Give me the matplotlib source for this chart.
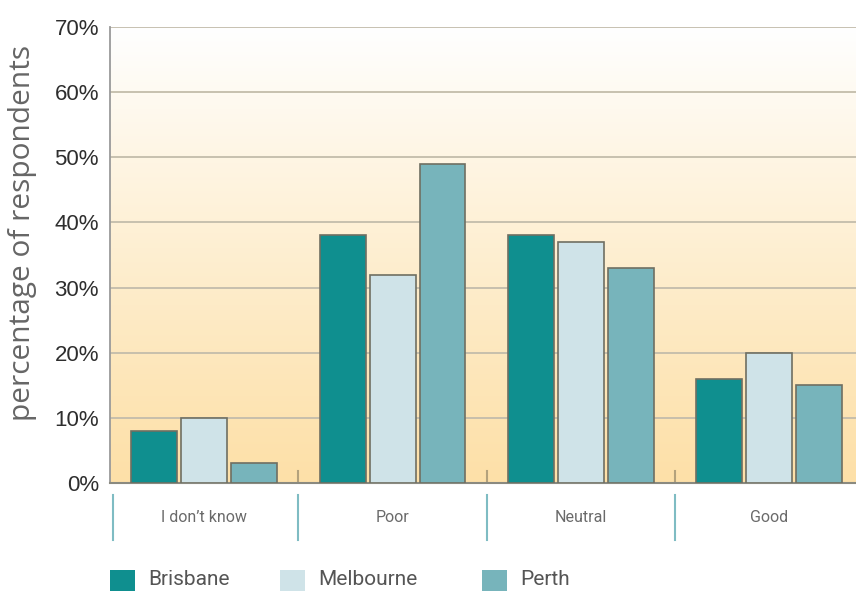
import numpy as np
import matplotlib
matplotlib.use("Agg")
import matplotlib.pyplot as plt
from matplotlib.patches import Rectangle
from matplotlib.lines import Line2D

categories = ["I don\u2019t know", "Poor", "Neutral", "Good"]
series_names = ["Brisbane", "Melbourne", "Perth"]
brisbane = [8, 38, 38, 16]
melbourne = [10, 32, 37, 20]
perth = [3, 49, 33, 15]
yticks = [0, 10, 20, 30, 40, 50, 60, 70]
ytick_labels = ["0%", "10%", "20%", "30%", "40%", "50%", "60%", "70%"]

series = [brisbane, melbourne, perth]
colors = ["#0f8f8f", "#cfe3e8", "#77b4bb"]

W, H = 856, 591
fig = plt.figure(figsize=(W / 100, H / 100), dpi=100)
left, right, top, bottom = 110, 856, 27, 483
ax = fig.add_axes([left / W, 1 - bottom / H, (right - left) / W, (bottom - top) / H])

ax.set_xlim(-0.5, 3.46)
ax.set_ylim(0, 70)

# gradient background
grad = np.linspace(0, 1, 256)[:, None]
c_top = np.array([1.0, 1.0, 1.0])
c_bot = np.array([253, 224, 168]) / 255.0
t = grad ** 1.1
img = (c_bot * (1 - t)[..., None] + c_top * t[..., None])
img = np.repeat(img, 2, axis=1)
ax.imshow(img, extent=[-0.5, 3.46, 0, 70], origin="lower", aspect="auto", zorder=0)

# gridlines
for yv in yticks[1:]:
    ax.axhline(yv, color="#c3bcab", lw=1.3, zorder=1)

x = np.arange(len(categories))
bw = 0.244
step = 0.265
for i, (vals, col) in enumerate(zip(series, colors)):
    ax.bar(x + (i - 1) * step, vals, width=bw, color=col, edgecolor="#6f6f62",
           linewidth=1.2, zorder=3)

# small tan ticks at group boundaries
for b in x[1:] - 0.5:
    ax.plot([b, b], [0, 1.8], color="#b4a27c", lw=1.5, zorder=2)

ax.set_yticks(yticks)
ax.set_yticklabels(ytick_labels, fontfamily="Liberation Sans", fontsize=16, color="#2e2e2e")
ax.tick_params(axis="y", length=0, pad=8)
ax.set_xticks([])
for s in ["top", "right"]:
    ax.spines[s].set_visible(False)
ax.spines["left"].set_color("#9a9a9a")
ax.spines["left"].set_linewidth(1.3)
ax.spines["bottom"].set_color("#8a8a80")
ax.spines["bottom"].set_linewidth(1.5)

fig.text(23 / W, 1 - 233 / H, "percentage of respondents", rotation=90,
         ha="center", va="center", fontfamily="Open Sans", fontsize=21.5, color="#666666")

# category labels and separators below axis
trans = ax.get_xaxis_transform()
span = bottom - top
for i, cat in enumerate(categories):
    ax.text(i, -(518 - bottom) / span, cat, transform=trans, ha="center", va="center",
            fontfamily=["Roboto", "DejaVu Sans"], fontsize=11.5, color="#6a6a6a")
for b in x - 0.5:
    xb = b + (0.016 if b < 0 else 0.0)
    ax.add_line(Line2D([xb, xb], [-(495 - bottom) / span, -(540 - bottom) / span],
                       transform=trans, color="#7fbcc3", lw=1.5, clip_on=False))

# legend (manual, near the bottom edge)
leg_x = [110, 280, 482]
for name, col, lx in zip(series_names, colors, leg_x):
    fig.patches.append(Rectangle((lx / W, 1 - 592 / H), 25 / W, 22 / H, transform=fig.transFigure,
                                 facecolor=col, edgecolor="none"))
    fig.text((lx + 38) / W, 1 - 570 / H, name, ha="left", va="top",
             fontfamily=["Roboto", "DejaVu Sans"], fontsize=15, color="#555555")

fig.savefig("out.png", dpi=100)
